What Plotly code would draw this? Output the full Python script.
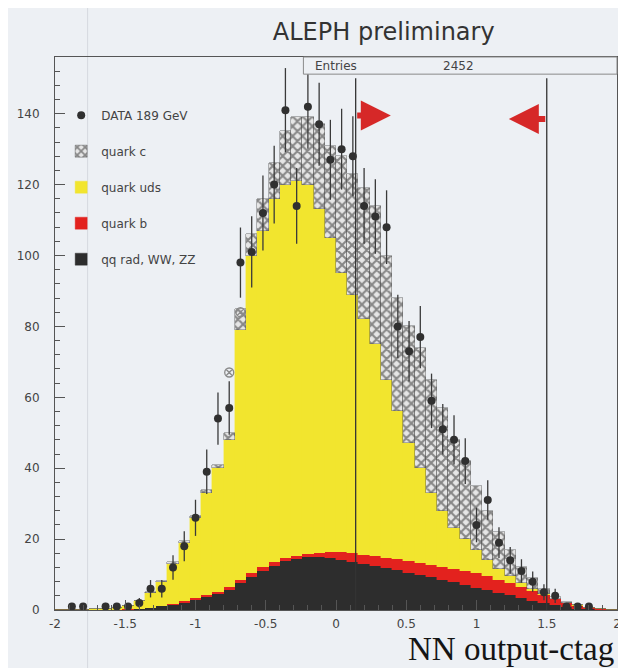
import math
import plotly.graph_objects as go

# ---------------- data ----------------
x_min, x_max, n_bins = -2.0, 2.0, 50

bkg_counts = [0, 0, 0, 0, 0, 0.05, 0.1, 0.3, 0.6, 1.0,
              1.5, 2.1, 2.8, 3.6, 4.5, 5.6, 7.5, 9.4, 11, 12.5,
              13.8, 14.4, 15, 15, 14.6, 14.1, 13.6, 13, 12.4, 11.8,
              11.2, 10.5, 9.9, 9.2, 8.5, 7.8, 7.1, 6.3, 5.6, 4.9,
              4.1, 3.4, 2.6, 1.9, 1.3, 0.8, 0.4, 0.2, 0.1, 0]
b_counts = [0, 0, 0, 0, 0, 0, 0.05, 0.1, 0.1, 0.1,
            0.2, 0.3, 0.5, 0.6, 0.7, 0.8, 1.0, 1.1, 1.0, 1.0,
            1.0, 0.9, 0.8, 1.2, 1.7, 2.2, 2.4, 2.6, 2.8, 3.0,
            3.1, 3.3, 3.4, 3.6, 3.7, 3.8, 3.9, 4.0, 3.9, 3.7,
            3.5, 3.1, 2.7, 2.3, 1.7, 1.2, 0.8, 0.4, 0.2, 0.1]
uds_counts = [0, 0, 0.1, 0.2, 0.3, 0.45, 0.85, 2.1, 4.1, 6.9,
              11.3, 16.6, 22.7, 28.8, 34.8, 41.6, 70.5, 89.5, 95, 102.5,
              105.2, 105.7, 104.2, 96.8, 88.7, 78.7, 73, 66.4, 59.8, 50.2,
              41.7, 33.2, 26.7, 20.2, 15.8, 11.4, 9, 6.7, 4.5, 2.9,
              1.9, 1.0, 0.5, 0.3, 0.2, 0.1, 0.1, 0.1, 0, 0]
c_counts = [0, 0, 0, 0, 0, 0, 0.1, 0.1, 0.2, 0.3,
            0.5, 0.5, 0.5, 0.8, 1, 2, 6, 6, 9, 10,
            15, 18, 19, 24, 26, 33, 34, 37, 39, 35,
            32, 33, 34, 32, 29, 25, 22, 18, 14, 10.5,
            7.5, 4.5, 3.2, 1.5, 0.4, 0.1, 0, 0, 0, 0]
data_counts = [0, 1, 1, 0, 1, 1, 1, 2, 6, 6,
               12, 18, 26, 39, 54, 57, 98, 101, 112, 120,
               141, 114, 142, 137, 127, 130, 128, 114, 111, 108,
               80, 73, 77, 59, 51, 48, 42, 24, 31, 19,
               14, 11, 8, 5, 4, 1, 1, 1, 0, 0]
# faint extra (scan ghost) data markers
ghost_bins = [15, 16]
ghost_counts = [67, 84]

cut_values = [0.14, 1.5]
entries = 2452
x_tick_vals = [-2, -1.5, -1, -0.5, 0, 0.5, 1, 1.5, 2]
x_tick_text = ["-2", "-1.5", "-1", "-0.5", "0", "0.5", "1", "1.5", "2"]
y_tick_vals = [0, 20, 40, 60, 80, 100, 120, 140]

# ---------------- figure ----------------
bw = (x_max - x_min) / n_bins
centers = [x_min + bw * (i + 0.5) for i in range(n_bins)]

BG = "#edf0f4"
TXT = "#444444"
SANS = "DejaVu Sans, Liberation Sans, Arial"

fig = go.Figure()

stack = [
    ("qq rad, WW, ZZ", bkg_counts, "#2d2d2d", None, 5),
    ("quark b", b_counts, "#e3221e", None, 4),
    ("quark uds", uds_counts, "#f2e52e", None, 3),
    ("quark c", c_counts, "#d8d8d8", dict(shape="x", size=7, solidity=0.5,
                                            fgcolor="#262626", bgcolor="#e6e6e6"), 2),
]
for name, vals, col, pat, rank in stack:
    marker = dict(color=col, line=dict(width=0.4, color=col if pat is None else "#4a4a4a"))
    if pat is not None:
        marker["pattern"] = pat
    fig.add_trace(go.Bar(
        x=centers, y=vals, width=bw, name=name, marker=marker,
        legendgroup=name, legendrank=rank, hoverinfo="skip"))

dx = [c for c, v in zip(centers, data_counts) if v > 0]
dy = [v for v in data_counts if v > 0]
de = [math.sqrt(v) for v in dy]
fig.add_trace(go.Scatter(
    x=dx, y=dy, mode="markers", name="DATA 189 GeV",
    marker=dict(symbol="circle", size=8, color="#303030"),
    error_y=dict(type="data", array=de, visible=True, width=0, thickness=1.3, color="#3a3a3a"),
    legendgroup="data", legendrank=1))

fig.add_trace(go.Scatter(
    x=[centers[i] for i in ghost_bins], y=ghost_counts, mode="markers",
    marker=dict(symbol="circle-x-open", size=9, color="#8a8a8a", line=dict(width=1.3)),
    showlegend=False, hoverinfo="skip"))

# cut lines
for cv in cut_values:
    fig.add_shape(type="line", xref="x", yref="y", x0=cv, x1=cv, y0=0, y1=150,
                  line=dict(color="#333333", width=1.3))

# arrows showing the selected region
fig.add_annotation(x=0.39, y=139.5, ax=cut_values[0], ay=139.5, xref="x", yref="y",
                   axref="x", ayref="y", text="", showarrow=True, arrowhead=2,
                   arrowsize=1.0, arrowwidth=6, arrowcolor="#d62828")
fig.add_annotation(x=1.23, y=138.5, ax=cut_values[1], ay=138.5, xref="x", yref="y",
                   axref="x", ayref="y", text="", showarrow=True, arrowhead=2,
                   arrowsize=1.0, arrowwidth=6, arrowcolor="#d62828")

# stats box
fig.add_shape(type="rect", xref="paper", yref="paper", x0=0.442, x1=1.0, y0=0.969, y1=1.0,
              line=dict(color="#8a8a8a", width=1), fillcolor=BG)
fig.add_annotation(x=0.459, y=0.9845, xref="paper", yref="paper", text="Entries",
                   showarrow=False, xanchor="left", yanchor="middle",
                   font=dict(family=SANS, size=12, color=TXT))
fig.add_annotation(x=0.687, y=0.9845, xref="paper", yref="paper", text=str(entries),
                   showarrow=False, xanchor="left", yanchor="middle",
                   font=dict(family=SANS, size=12, color=TXT))

# faint scan line
fig.add_shape(type="line", xref="paper", yref="paper", x0=0.058, x1=0.058, y0=-0.2, y1=1.2,
              line=dict(color="#d6d9df", width=1), layer="below")

# x-axis title
fig.add_annotation(x=0.998, y=-0.0705, xref="paper", yref="paper", text="NN output-ctag",
                   showarrow=False, xanchor="right", yanchor="middle",
                   font=dict(family="Liberation Serif, Times New Roman", size=33, color="#151515"))

fig.update_layout(
    width=618, height=660,
    margin=dict(l=47, r=5, t=49, b=58),
    paper_bgcolor=BG, plot_bgcolor=BG,
    barmode="stack", bargap=0,
    title=dict(text="ALEPH preliminary", x=0.608, xanchor="center", y=0.9636, yanchor="middle",
               font=dict(family=SANS, size=24, color="#333333")),
    legend=dict(x=0.011, y=0.921, xanchor="left", yanchor="top", traceorder="grouped",
                tracegroupgap=17, bgcolor="rgba(0,0,0,0)",
                font=dict(family=SANS, size=12, color=TXT), itemwidth=30),
    xaxis=dict(range=[x_min, x_max], tickvals=x_tick_vals, ticktext=x_tick_text,
               ticks="inside", ticklen=10, tickcolor="#555", showline=True, linecolor="#555",
               mirror=True, showgrid=False, zeroline=False, ticklabelstandoff=3,
               tickfont=dict(family=SANS, size=12, color=TXT),
               minor=dict(dtick=0.1, ticks="inside", ticklen=5, tickcolor="#555")),
    yaxis=dict(range=[0, 156], tickvals=y_tick_vals, ticks="inside", ticklen=10,
               tickcolor="#555", showline=True, linecolor="#555", mirror=True,
               showgrid=False, zeroline=False, ticklabelstandoff=12,
               tickfont=dict(family=SANS, size=12, color=TXT),
               minor=dict(dtick=4, ticks="inside", ticklen=5, tickcolor="#555")),
)

fig.write_html("out.html")
